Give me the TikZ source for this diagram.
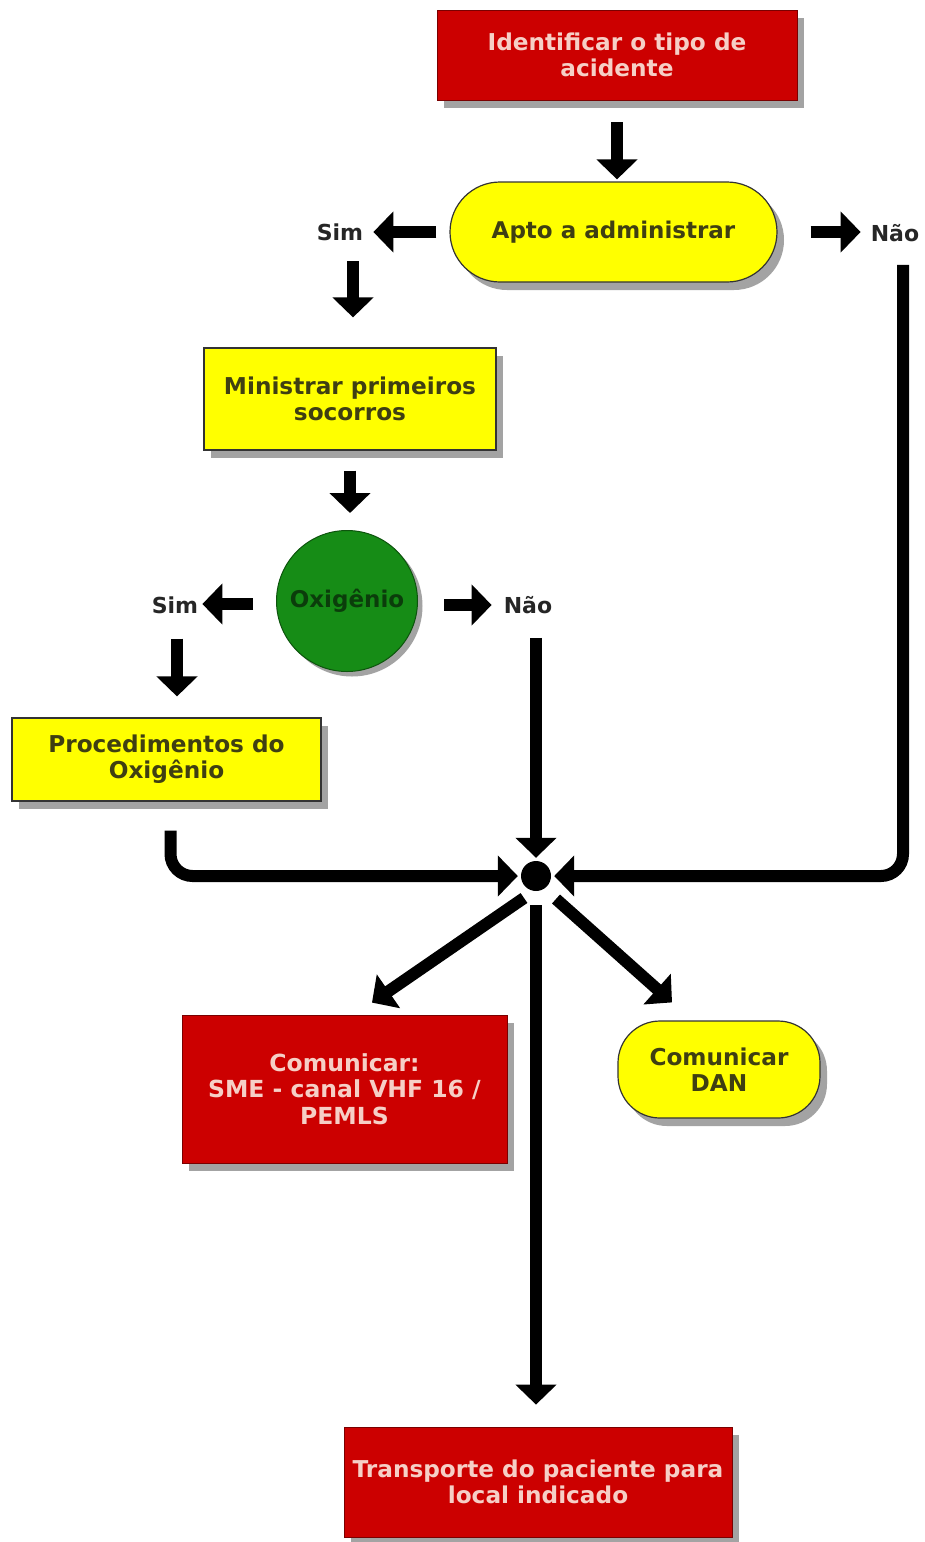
\documentclass[tikz,border=0pt]{standalone}
\usepackage{fontspec}
\setmainfont{DejaVu Sans}
\usetikzlibrary{arrows.meta,shadows,calc}
\definecolor{boxred}{HTML}{CC0000}
\definecolor{redtext}{HTML}{F6CFC6}
\definecolor{ylw}{HTML}{FFFF00}
\definecolor{ylwtext}{HTML}{3F3F12}
\definecolor{grn}{HTML}{168C16}
\definecolor{grntext}{HTML}{0B3D0B}
\definecolor{shd}{HTML}{A3A3A3}
\begin{document}
\begin{tikzpicture}[x=1pt,y=-1pt,
  base/.style={align=center, font=\bfseries\fontsize{23.2}{26}\selectfont, inner sep=0pt,
    drop shadow={shadow xshift=7pt, shadow yshift=-8pt, opacity=1, fill=shd}},
  redbox/.style={base, fill=boxred, draw=boxred!60!black, line width=0.8pt, text=redtext},
  ylwbox/.style={base, fill=ylw, draw=black!80, line width=1.2pt, text=ylwtext},
  lbl/.style={font=\bfseries\fontsize{22}{26}\selectfont, text=black!85, inner sep=0pt},
  arr/.style={line width=12pt, -{Triangle[width=40pt,length=20pt]}},
  conn/.style={arr, rounded corners=22pt}]
\useasboundingbox[fill=white] (0,0) rectangle (925,1542);

\node[redbox, minimum width=360pt, minimum height=90pt] (id) at (617,55) {Identificar o tipo de\\acidente};
\node[ylwbox, rounded corners=50pt, minimum width=327pt, minimum height=100pt,
  font=\bfseries\fontsize{23}{26}\selectfont] (apto) at (613.5,232) {Apto a administrar};
\node[lbl] (sim1) at (340,232) {Sim};
\node[lbl] (nao1) at (895,233) {Não};
\node[ylwbox, minimum width=292pt, minimum height=102pt] (min) at (350,399) {Ministrar primeiros\\socorros};
\node[circle, fill=grn, draw=grn!60!black, line width=1pt, minimum size=141pt, inner sep=0pt,
  text=grntext, font=\bfseries\fontsize{23}{26}\selectfont,
  drop shadow={shadow xshift=5pt, shadow yshift=-5pt, opacity=1, fill=shd}] (oxi) at (347,601) {Oxigênio};
\node[lbl] (sim2) at (175,605) {Sim};
\node[lbl] (nao2) at (528,605) {Não};
\node[ylwbox, minimum width=309pt, minimum height=83pt] (proc) at (166.5,759.5) {Procedimentos do\\Oxigênio};
\node[circle, fill=black, minimum size=30pt, inner sep=0pt] (dot) at (536,876) {};
\node[redbox, minimum width=325pt, minimum height=148pt, font=\bfseries\fontsize{23.5}{26.5}\selectfont] (sme) at (344.5,1089) {Comunicar:\\SME - canal VHF 16 /\\PEMLS};
\node[ylwbox, rounded corners=42pt, minimum width=202pt, minimum height=97pt] (dan) at (719,1069.5) {Comunicar\\DAN};
\node[redbox, minimum width=388pt, minimum height=110pt] (trans) at (538,1482) {Transporte do paciente para\\local indicado};

\draw[arr] ([yshift=-22pt]id.south) -- ([yshift=2pt]id.south |- apto.north);
\draw[arr] ([xshift=-13pt]apto.west) -- ([xshift=10pt]sim1.east);
\draw[arr] ([xshift=33pt]apto.east) -- ([xshift=-10pt]apto.east -| nao1.west);
\draw[arr] ([xshift=3pt,yshift=86pt]min.north) -- ([xshift=3pt,yshift=30pt]min.north);
\draw[arr] ([yshift=-20pt]min.south) -- ([yshift=17pt]min.south |- oxi.north);
\draw[arr] ([xshift=-23pt,yshift=1pt]oxi.west |- sim2.east) -- ([xshift=4pt,yshift=1pt]sim2.east);
\draw[arr] ([xshift=26pt]oxi.east |- nao2.west) -- ([xshift=-12pt]nao2.west);
\draw[arr] ([xshift=2pt,yshift=-25pt]sim2.south) -- ([xshift=2pt,yshift=21pt]sim2.south |- proc.north);

\draw[conn] ([xshift=4pt,yshift=-29pt]proc.south) |- ([xshift=-3pt]dot.west);
\draw[arr] ([yshift=-24pt]dot.north |- nao2.south) -- ([yshift=3pt]dot.north);
\draw[conn] ([xshift=8pt,yshift=-23pt]nao1.south) |- ([xshift=3pt]dot.east);

\draw[arr] ([shift={(-12pt,-22pt)}]dot.center) -- ([shift={(27.5pt,12pt)}]sme.north);
\draw[arr] ([shift={(20pt,-23pt)}]dot.center) -- ([shift={(-47pt,18pt)}]dan.north);
\draw[arr] ([yshift=-14pt]dot.south) -- ([yshift=22pt]dot.south |- trans.north);
\end{tikzpicture}
\end{document}
